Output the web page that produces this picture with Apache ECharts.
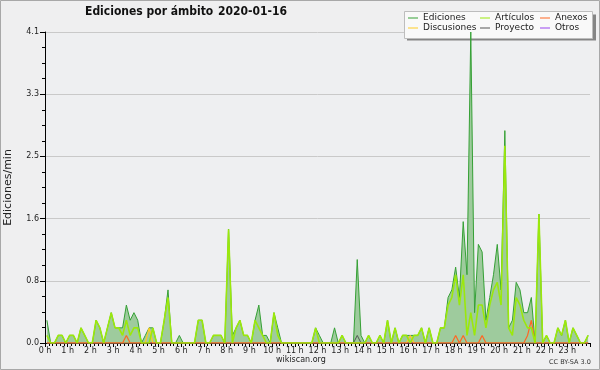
<!DOCTYPE html>
<html>
<head>
<meta charset="utf-8">
<script src="https://cdn.jsdelivr.net/npm/echarts@6/dist/echarts.min.js"></script>
<style>
html,body{margin:0;padding:0;background:#efeff0;}
#chart{width:600px;height:370px;}
</style>
</head>
<body>
<div id="chart"></div>
<script>
// 10-minute bins, 6 per hour (values in edits/min)
var ediciones = [
  0.3, 0, 0, 0.1, 0.1, 0,      0.1, 0.1, 0, 0.2, 0.1, 0,
  0, 0.3, 0.2, 0, 0.2, 0.4,    0.2, 0.2, 0.2, 0.5, 0.3, 0.4,
  0.3, 0, 0.1, 0.2, 0.2, 0,    0, 0.3, 0.7, 0, 0, 0.1,
  0, 0, 0, 0, 0.3, 0.3,        0, 0, 0.1, 0.1, 0.1, 0,
  1.5, 0.1, 0.2, 0.3, 0.1, 0.1, 0, 0.3, 0.5, 0.1, 0.1, 0,
  0.4, 0.2, 0, 0, 0, 0,        0, 0, 0, 0, 0, 0.2,
  0.1, 0, 0, 0, 0.2, 0,        0.1, 0, 0, 0, 1.1, 0.1,
  0, 0.1, 0, 0, 0.1, 0,        0.3, 0, 0.2, 0, 0.1, 0.1,
  0.1, 0.1, 0.1, 0.2, 0, 0.2,  0, 0, 0.2, 0.2, 0.6, 0.7,
  1.0, 0.6, 1.6, 0.9, 4.1, 0.4, 1.3, 1.2, 0.3, 0.6, 0.9, 1.3,
  0.7, 2.8, 0.2, 0.3, 0.8, 0.7, 0.4, 0.4, 0.6, 0, 1.7, 0,
  0.1, 0, 0, 0.2, 0.1, 0.3,    0, 0.2, 0.1, 0, 0, 0.1
];
var articulos = [
  0.1, 0, 0, 0.1, 0.1, 0,      0.1, 0.1, 0, 0.2, 0.1, 0,
  0, 0.3, 0.2, 0, 0.2, 0.4,    0.2, 0.2, 0.1, 0.3, 0.1, 0.2,
  0.2, 0, 0, 0, 0.2, 0,        0, 0.3, 0.6, 0, 0, 0,
  0, 0, 0, 0, 0.3, 0.3,        0, 0, 0.1, 0.1, 0.1, 0,
  1.5, 0, 0.2, 0.3, 0.1, 0.1,  0, 0.3, 0.2, 0.1, 0, 0,
  0.4, 0.1, 0, 0, 0, 0,        0, 0, 0, 0, 0, 0.2,
  0, 0, 0, 0, 0, 0,            0.1, 0, 0, 0, 0, 0,
  0, 0.1, 0, 0, 0.1, 0,        0.3, 0, 0.2, 0, 0.1, 0.1,
  0, 0.1, 0.1, 0.2, 0, 0.2,    0, 0, 0.2, 0.2, 0.5, 0.6,
  0.9, 0.5, 0.9, 0.1, 0.4, 0.1, 0.5, 0.5, 0.2, 0.5, 0.7, 0.8,
  0.5, 2.6, 0.2, 0.1, 0.6, 0.5, 0.3, 0.2, 0.2, 0, 1.7, 0,
  0.1, 0, 0, 0.2, 0.1, 0.3,    0, 0.2, 0.1, 0, 0, 0.1
];
var anexos = [
  0, 0, 0, 0, 0, 0,            0, 0, 0, 0, 0, 0,
  0, 0, 0, 0, 0, 0,            0, 0, 0, 0.1, 0, 0,
  0, 0, 0, 0, 0, 0,            0, 0, 0, 0, 0, 0,
  0, 0, 0, 0, 0, 0,            0, 0, 0, 0, 0, 0,
  0, 0, 0, 0, 0, 0,            0, 0, 0, 0, 0, 0,
  0, 0, 0, 0, 0, 0,            0, 0, 0, 0, 0, 0,
  0, 0, 0, 0, 0, 0,            0, 0, 0, 0, 0, 0,
  0, 0, 0, 0, 0, 0,            0, 0, 0, 0, 0, 0,
  0, 0, 0, 0, 0, 0,            0, 0, 0, 0, 0, 0,
  0.1, 0, 0.1, 0, 0, 0,        0, 0.1, 0, 0, 0, 0,
  0, 0, 0, 0, 0, 0,            0, 0.1, 0.3, 0, 0, 0,
  0, 0, 0, 0, 0, 0,            0, 0, 0, 0, 0, 0
];
var discusiones = [
  0, 0, 0, 0, 0, 0,            0, 0, 0, 0, 0, 0,
  0, 0, 0, 0, 0, 0,            0, 0, 0, 0, 0, 0,
  0, 0, 0, 0.2, 0, 0,          0, 0, 0, 0, 0, 0,
  0, 0, 0, 0, 0, 0,            0, 0, 0, 0, 0, 0,
  0, 0, 0, 0, 0, 0,            0, 0, 0, 0, 0, 0,
  0, 0, 0, 0, 0, 0,            0, 0, 0, 0, 0, 0,
  0, 0, 0, 0, 0, 0,            0, 0, 0, 0, 0, 0,
  0, 0, 0, 0, 0, 0,            0, 0, 0, 0, 0, 0,
  0.1, 0, 0, 0, 0, 0,          0, 0, 0, 0, 0, 0,
  0, 0, 0, 0, 0, 0,            0, 0, 0, 0, 0, 0,
  0, 0, 0, 0, 0, 0,            0, 0, 0, 0, 0, 0,
  0, 0, 0, 0, 0, 0,            0, 0, 0, 0, 0, 0
];
var proyecto = [
  0, 0, 0, 0, 0, 0,            0, 0, 0, 0, 0, 0,
  0, 0, 0, 0, 0, 0,            0, 0, 0, 0, 0, 0,
  0, 0, 0, 0, 0, 0,            0, 0, 0, 0, 0, 0,
  0, 0, 0, 0, 0, 0,            0, 0, 0, 0, 0, 0,
  0, 0, 0, 0, 0, 0,            0, 0, 0, 0, 0, 0,
  0, 0, 0, 0, 0, 0,            0, 0, 0, 0, 0, 0,
  0, 0, 0, 0, 0, 0,            0, 0, 0, 0, 0.1, 0,
  0, 0, 0, 0, 0, 0,            0, 0, 0, 0, 0, 0,
  0, 0, 0, 0, 0, 0,            0, 0, 0, 0, 0, 0,
  0, 0, 0, 0, 0, 0,            0, 0, 0, 0, 0, 0,
  0, 0, 0, 0, 0, 0,            0, 0, 0, 0, 0, 0,
  0, 0, 0, 0, 0, 0,            0, 0, 0, 0, 0, 0
];
var otros = [
  0, 0, 0, 0, 0, 0,            0, 0, 0, 0, 0, 0,
  0, 0, 0, 0, 0, 0,            0, 0, 0, 0, 0, 0,
  0, 0, 0, 0, 0, 0,            0, 0, 0, 0, 0, 0,
  0, 0, 0, 0, 0, 0,            0, 0, 0, 0, 0, 0,
  0, 0, 0, 0, 0, 0,            0, 0, 0, 0, 0, 0,
  0, 0, 0, 0, 0, 0,            0, 0, 0, 0, 0, 0,
  0, 0, 0, 0, 0, 0,            0, 0, 0, 0, 0, 0,
  0, 0, 0, 0, 0, 0,            0, 0, 0, 0, 0, 0,
  0, 0, 0, 0, 0, 0,            0, 0, 0, 0, 0, 0,
  0, 0, 0, 0, 0, 0,            0, 0, 0, 0, 0, 0,
  0, 0, 0, 0, 0, 0,            0, 0, 0, 0, 0, 0,
  0, 0, 0, 0, 0, 0,            0, 0, 0, 0, 0, 0
];
var yTickStep = 0.82;   // 4.1 / 5 -> labels 0.0 0.8 1.6 2.5 3.3 4.1
var yMax = 4.1;
var hourLabelSuffix = ' h';

function pts(arr) {
  // each 10-minute bin plotted at its centre, x in hours
  return arr.map(function (v, i) { return [(i + 0.5) / 6, v]; });
}

var FONT = 'DejaVu Sans';
var chart = echarts.init(document.getElementById('chart'), null, {renderer: 'canvas'});

function lineSeries(name, arr, color, width, extra) {
  var s = {
    name: name, type: 'line', data: pts(arr), symbol: 'none', showSymbol: false,
    lineStyle: {color: color, width: width}, itemStyle: {color: color},
    animation: false, silent: true
  };
  if (extra) { for (var k in extra) s[k] = extra[k]; }
  return s;
}

function legendCol(left, names) {
  return {
    orient: 'vertical', left: left, top: 13, padding: 0, itemGap: 0,
    itemWidth: 10, itemHeight: 1, icon: 'rect', selectedMode: false,
    data: names,
    textStyle: {fontFamily: FONT, fontSize: 9, lineHeight: 10, color: '#222', padding: [0, 0, 0, 0]}
  };
}

chart.setOption({
  backgroundColor: '#efeff0',
  animation: false,
  title: [
    {text: 'Ediciones por ámbito', left: 85, top: 6, padding: 0,
     textStyle: {fontFamily: 'DejaVu Sans Condensed, ' + FONT, fontWeight: 'bold', fontSize: 12, color: '#111'}},
    {text: '2020-01-16', left: 218, top: 6, padding: 0,
     textStyle: {fontFamily: 'DejaVu Sans Condensed, ' + FONT, fontWeight: 'bold', fontSize: 12, color: '#111'}}
  ],
  legend: [
    legendCol(408, ['Ediciones', 'Discusiones']),
    legendCol(480, ['Artículos', 'Proyecto']),
    legendCol(540, ['Anexos', 'Otros'])
  ],
  grid: {left: 45, right: 10, top: 32, bottom: 27, show: true, backgroundColor: '#eeeff1', borderWidth: 0,
         containLabel: false, outerBoundsMode: 'none'},
  xAxis: {
    type: 'value', min: 0, max: 24, interval: 1, z: 3,
    axisLine: {show: true, lineStyle: {color: '#000', width: 1}},
    axisTick: {show: true, length: 4, lineStyle: {color: '#000'}},
    minorTick: {show: true, splitNumber: 6, length: 3, lineStyle: {color: '#000'}},
    splitLine: {show: false},
    axisLabel: {fontFamily: FONT, fontSize: 8, color: '#222', margin: 4,
      formatter: function (v) { return v === 24 ? '' : v + hourLabelSuffix; }}
  },
  yAxis: {
    type: 'value', min: 0, max: yMax, interval: yTickStep,
    name: 'Ediciones/min', nameLocation: 'middle', nameGap: 31,
    nameTextStyle: {fontFamily: FONT, fontSize: 11, color: '#222'},
    axisLine: {show: true, lineStyle: {color: '#000', width: 1}},
    axisTick: {show: true, length: 5, lineStyle: {color: '#000'}},
    minorTick: {show: true, splitNumber: 4, length: 3, lineStyle: {color: '#000'}},
    splitLine: {show: true, lineStyle: {color: '#c9c9c9', width: 1}},
    axisLabel: {fontFamily: FONT, fontSize: 8, color: '#222', margin: 6,
      formatter: function (v) { return v.toFixed(1); }}
  },
  graphic: [
    {type: 'rect', z: 1, shape: {x: 407, y: 14.5, width: 189, height: 26}, style: {fill: '#858585'}},
    {type: 'rect', z: 1, shape: {x: 404.5, y: 11.5, width: 188, height: 27}, style: {fill: '#f9f9f9', stroke: '#bdbdbd', lineWidth: 1}},
    {type: 'text', z: 5, left: 276, top: 356, style: {text: 'wikiscan.org', fontFamily: FONT, fontSize: 8, fill: '#222'}},
    {type: 'text', z: 5, left: 549, top: 359, style: {text: 'CC BY-SA 3.0', fontFamily: FONT, fontSize: 6.5, fill: '#333'}},
    {type: 'rect', z: 5, shape: {x: 0.5, y: 0.5, width: 599, height: 369}, style: {fill: 'none', stroke: '#a8a8a8', lineWidth: 1}}
  ],
  series: [
    lineSeries('Otros', otros, '#9944ee', 1),
    lineSeries('Ediciones', ediciones, '#35a035', 1, {areaStyle: {color: '#9ecb9d', opacity: 1}}),
    lineSeries('Proyecto', proyecto, '#555555', 1),
    lineSeries('Discusiones', discusiones, '#ffcc22', 1.2),
    lineSeries('Anexos', anexos, '#ff6622', 1.2),
    lineSeries('Artículos', articulos, '#9be80c', 1.6)
  ]
});
</script>
</body>
</html>
